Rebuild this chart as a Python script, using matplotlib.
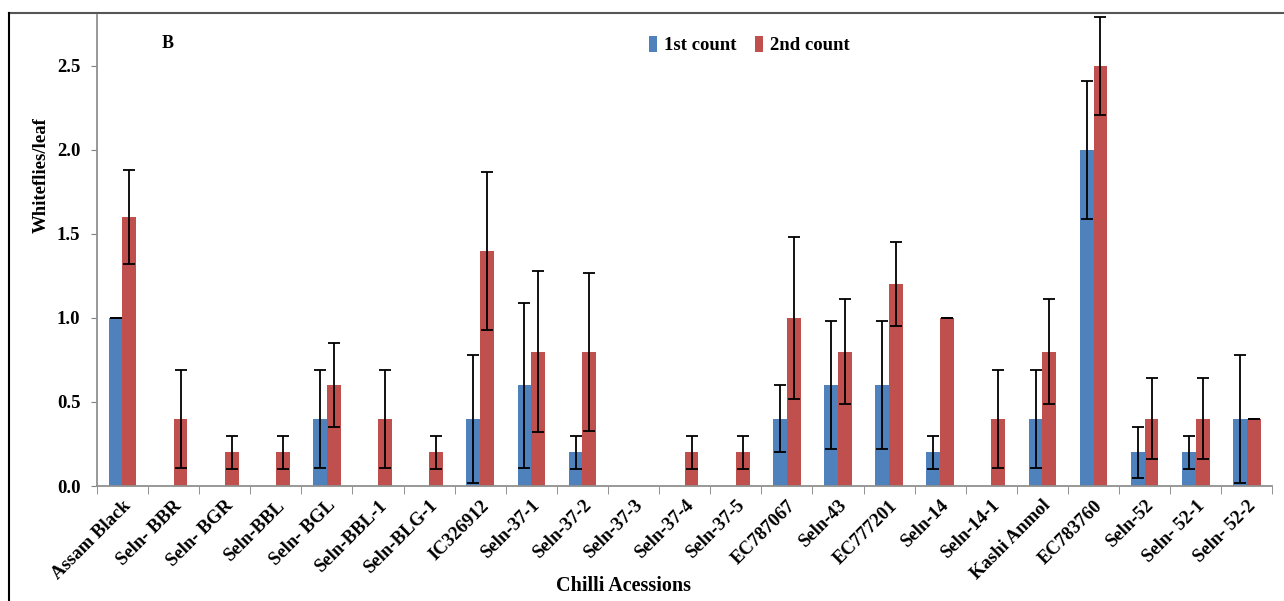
import numpy as np
import matplotlib.pyplot as plt
from matplotlib.lines import Line2D

# Data
accessions = ["Assam Black", "Seln- BBR", "Seln- BGR", "Seln-BBL", "Seln- BGL",
              "Seln-BBL-1", "Seln-BLG-1", "IC326912", "Seln-37-1", "Seln-37-2",
              "Seln-37-3", "Seln-37-4", "Seln-37-5", "EC787067", "Seln-43",
              "EC777201", "Seln-14", "Seln-14-1", "Kashi Anmol", "EC783760",
              "Seln-52", "Seln- 52-1", "Seln- 52-2"]
count1 = [1.0, 0, 0, 0, 0.4, 0, 0, 0.4, 0.6, 0.2, 0, 0, 0, 0.4, 0.6,
          0.6, 0.2, 0, 0.4, 2.0, 0.2, 0.2, 0.4]
err1 = [0, 0, 0, 0, 0.29, 0, 0, 0.38, 0.49, 0.1, 0, 0, 0, 0.2, 0.38,
        0.38, 0.1, 0, 0.29, 0.41, 0.15, 0.1, 0.38]
count2 = [1.6, 0.4, 0.2, 0.2, 0.6, 0.4, 0.2, 1.4, 0.8, 0.8, 0, 0.2, 0.2, 1.0, 0.8,
          1.2, 1.0, 0.4, 0.8, 2.5, 0.4, 0.4, 0.4]
err2 = [0.28, 0.29, 0.1, 0.1, 0.25, 0.29, 0.1, 0.47, 0.48, 0.47, 0, 0.1, 0.1, 0.48, 0.31,
        0.25, 0, 0.29, 0.31, 0.29, 0.24, 0.24, 0]

blue = "#4F81BD"
red = "#C0504D"
font = "Liberation Serif"

fig = plt.figure(figsize=(12.84, 6.01), dpi=100)
ax = fig.add_axes([0.0755, 0.1913, 0.9155, 0.783])

x = np.arange(len(accessions))
w = 0.27
ekw = dict(ecolor="black", elinewidth=1.3, capsize=4.5, capthick=1.3)


def visible_err(vals, errs):
    # no error bar drawn on empty bars
    return [e if v > 0 else np.nan for v, e in zip(vals, errs)]


ax.bar(x - w / 2, count1, w, color=blue, yerr=visible_err(count1, err1),
       error_kw=ekw, label="1st count")
ax.bar(x + w / 2, count2, w, color=red, yerr=visible_err(count2, err2),
       error_kw=ekw, label="2nd count")

ax.set_xlim(-0.5, len(accessions) - 0.5)
ax.set_ylim(0, 2.8)
yt = np.arange(0, 2.51, 0.5)
ax.set_yticks(yt)
ax.set_yticklabels([f"{v:.1f}" for v in yt],
                   fontfamily=font, fontweight="bold", fontsize=13.5)

# category labels, boundary ticks like Excel
ax.set_xticks(x)
ax.set_xticklabels(accessions, rotation=45, ha="right", rotation_mode="anchor",
                   fontfamily=font, fontweight="bold", fontsize=13.5)
ax.tick_params(axis="x", length=0, pad=8)
ax.set_xticks(np.arange(-0.5, len(accessions)), minor=True)
ax.tick_params(axis="x", which="minor", length=6, color="#808080")
ax.tick_params(axis="y", length=4, color="#808080", pad=8)

for s in ["top", "right"]:
    ax.spines[s].set_visible(False)
for s in ["left", "bottom"]:
    ax.spines[s].set_color("#909090")
    ax.spines[s].set_linewidth(1.3)

ax.set_ylabel("Whiteflies/leaf", fontfamily=font, fontweight="bold", fontsize=13.5)
ax.set_xlabel("Chilli Acessions", fontfamily=font, fontweight="bold", fontsize=14.5)
ax.xaxis.set_label_coords(0.448, -0.192)
ax.yaxis.set_label_coords(-0.04, 0.66)

ax.text(0.06, 0.94, "B", transform=ax.transAxes, fontfamily=font,
        fontweight="bold", fontsize=13, ha="center", va="center")

ax.legend(loc="upper left", bbox_to_anchor=(0.455, 0.992), ncol=2, frameon=False,
          prop=dict(family=font, weight="bold", size=13.5),
          handlelength=0.45, handleheight=0.9, handletextpad=0.35, columnspacing=1.0)

# outer chart border
fig.add_artist(Line2D([9 / 1284, 1], [1 - 12.5 / 601, 1 - 12.5 / 601],
                      color="#555555", linewidth=1.5, transform=fig.transFigure))
fig.add_artist(Line2D([9 / 1284, 9 / 1284], [0, 1 - 12.5 / 601],
                      color="black", linewidth=1.5, transform=fig.transFigure))

fig.savefig("out.png", dpi=100)
